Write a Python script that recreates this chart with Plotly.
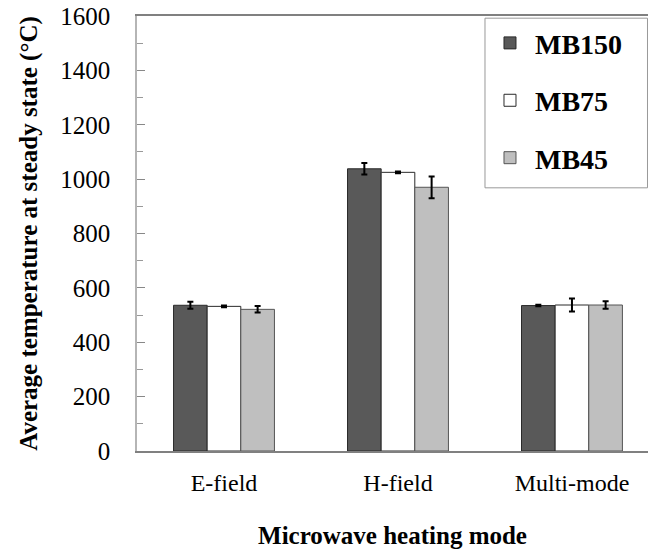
import plotly.graph_objects as go

# Heating modes and steady-state temperatures per microwave absorber size
modes = ["E-field", "H-field", "Multi-mode"]
series_names = ["MB150", "MB75", "MB45"]
mb150 = [536, 1038, 535]
mb75 = [532, 1025, 537]
mb45 = [521, 970, 537]
mb150_err = [13, 21, 3]
mb75_err = [3, 3, 24]
mb45_err = [12, 40, 14]
y_ticks = [0, 200, 400, 600, 800, 1000, 1200, 1400, 1600]

fills = ["#595959", "#ffffff", "#bfbfbf"]
outlines = ["#2a2a2a", "#2a2a2a", "#555555"]

fig = go.Figure()
for name, vals, errs, fill, edge in zip(
    series_names, [mb150, mb75, mb45], [mb150_err, mb75_err, mb45_err], fills, outlines
):
    fig.add_trace(
        go.Bar(
            x=modes,
            y=vals,
            name=name,
            legendgroup=name,
            marker=dict(color=fill, line=dict(color=edge, width=1)),
            error_y=dict(type="data", array=errs, visible=True,
                         color="#000000", thickness=2, width=3),
        )
    )

serif = "Liberation Serif, Times New Roman, serif"

# Framed panel behind the legend entries, running to the right edge
fig.add_shape(
    type="rect", xref="paper", yref="paper",
    x0=0.681, x1=0.999, y0=0.605, y1=0.995,
    line=dict(color="#999999", width=1), fillcolor="white", layer="above",
)

fig.update_layout(
    width=649,
    height=551,
    margin=dict(l=137, r=1, t=16, b=100),
    paper_bgcolor="white",
    plot_bgcolor="white",
    barmode="group",
    bargap=0.42,
    bargroupgap=0,
    font=dict(family=serif, size=24, color="#000000"),
    showlegend=True,
    legend=dict(
        x=0.681, y=0.995, xanchor="left", yanchor="top",
        borderwidth=0, bgcolor="rgba(0,0,0,0)",
        font=dict(family=serif, size=28, color="#000000", weight="bold"),
        tracegroupgap=18,
        itemwidth=40,
    ),
    xaxis=dict(
        range=[-0.5, 2.437],
        showline=True, linecolor="#808080", linewidth=1.5, mirror=True,
        ticks="", showgrid=False, zeroline=False,
        tickfont=dict(family=serif, size=24),
        ticklabelstandoff=9,
        title=dict(text="Microwave heating mode",
                   font=dict(family=serif, size=25, weight="bold"),
                   standoff=32),
    ),
    yaxis=dict(
        range=[0, 1600],
        tickvals=y_ticks,
        showline=True, linecolor="#b5b5b5", linewidth=1.5,
        ticks="inside", ticklen=8, tickcolor="#888888", tickwidth=1,
        minor=dict(dtick=100, ticks="inside", ticklen=6, tickcolor="#999999",
                   tickwidth=1, showgrid=False),
        showgrid=False, zeroline=False,
        tickfont=dict(family=serif, size=25),
        ticklabelstandoff=20,
        title=dict(text="Average temperature at steady state (°C)",
                   font=dict(family=serif, size=25, weight="bold"),
                   standoff=16),
    ),
)

fig.write_html("out.html")
